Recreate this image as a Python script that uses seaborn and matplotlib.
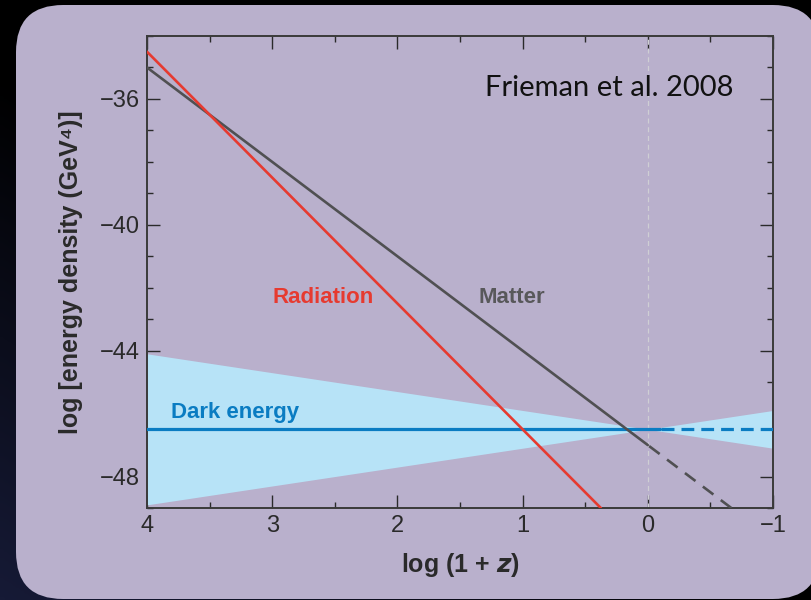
import numpy as np
import pandas as pd
import matplotlib
matplotlib.use("Agg")
import matplotlib.pyplot as plt
import seaborn as sns
from matplotlib.patches import FancyBboxPatch
from matplotlib.ticker import MultipleLocator
from matplotlib.colors import LinearSegmentedColormap

# ---------------- data ----------------
rad_x = [4.0, 0.375]
rad_y = [-34.5, -49.0]

mat_solid_x = [4.0, 0.0]
mat_solid_y = [-35.0, -47.0]
mat_dash_x = [0.0, -0.667]
mat_dash_y = [-47.0, -49.0]

de_solid_x = [4.0, -0.1]
de_solid_y = [-46.5, -46.5]
de_dash_x = [-0.1, -1.0]
de_dash_y = [-46.5, -46.5]

band_x = [4.0, 0.0, -1.0]
band_upper = [-44.1, -46.5, -45.9]
band_lower = [-48.9, -46.5, -47.1]

x_ticks = [4, 3, 2, 1, 0, -1]
x_tick_labels = ["4", "3", "2", "1", "0", "\u22121"]
y_ticks = [-36, -40, -44, -48]
y_tick_labels = ["\u221236", "\u221240", "\u221244", "\u221248"]

# ---------------- style ----------------
sns.set_theme(style="ticks")
plt.rcParams["font.family"] = ["Liberation Sans", "DejaVu Sans"]

BOX = "#b9b0cc"
RED = "#e63a30"
GRAY = "#505052"
BLUE = "#0a7cc2"
BAND = "#b7e3f7"
INK = "#2a2a2a"

fig = plt.figure(figsize=(8.11, 6.0), dpi=100)
fig.patch.set_facecolor("#000000")

# dark gradient background (navy toward bottom-left)
bg = fig.add_axes([0, 0, 1, 1], zorder=-10)
gx, gy = np.meshgrid(np.linspace(0, 1, 200), np.linspace(0, 1, 200))
grad = np.clip((1 - gx) * 0.7 + gy * 0.8 - 0.8, 0, 1) / 0.7
cmap = LinearSegmentedColormap.from_list("bgc", ["#000000", "#161a36"])
bg.imshow(grad, cmap=cmap, extent=[0, 1, 0, 1], aspect="auto", origin="upper",
          vmin=0, vmax=1)
bg.set_axis_off()

# rounded lavender panel
W, H = 811.0, 600.0
box = FancyBboxPatch((16 / W, 1 - 599 / H), (820 - 16) / W, (599 - 5) / H,
                     boxstyle="round,pad=0,rounding_size=0.058",
                     transform=fig.transFigure, facecolor=BOX, edgecolor="none",
                     mutation_aspect=W / H, zorder=-5)
fig.patches.append(box)

ax = fig.add_axes([147 / W, 1 - 508 / H, (773 - 147) / W, (508 - 36) / H])
ax.set_facecolor("none")

# band
ax.fill_between(band_x, band_lower, band_upper, color=BAND, linewidth=0, zorder=1)

# vertical dashed line at today
ax.axvline(0, color="#cfcfd4", lw=0.9, ls=(0, (4, 3)), zorder=1.5)

# lines
sns.lineplot(x=de_solid_x, y=de_solid_y, color=BLUE, lw=2.3, ax=ax, zorder=3)
sns.lineplot(x=de_dash_x, y=de_dash_y, color=BLUE, lw=2.3, ax=ax, zorder=3,
             linestyle=(0, (4, 2.2)))
sns.lineplot(x=mat_solid_x, y=mat_solid_y, color=GRAY, lw=1.9, ax=ax, zorder=4)
sns.lineplot(x=mat_dash_x, y=mat_dash_y, color=GRAY, lw=1.9, ax=ax, zorder=4,
             linestyle=(0, (5, 3.5)))
sns.lineplot(x=rad_x, y=rad_y, color=RED, lw=1.9, ax=ax, zorder=5)

ax.set_xlim(4, -1)
ax.set_ylim(-49, -34)

ax.set_xticks(x_ticks)
ax.set_xticklabels(x_tick_labels)
ax.set_yticks(y_ticks)
ax.set_yticklabels(y_tick_labels)
ax.xaxis.set_minor_locator(MultipleLocator(0.5))
ax.yaxis.set_minor_locator(MultipleLocator(1))

ax.tick_params(which="both", direction="in", top=True, right=True,
               color=INK, width=1.0, labelsize=17, labelcolor=INK)
ax.tick_params(which="major", length=9.5, pad=5)
ax.tick_params(which="minor", length=4.5)
for s in ax.spines.values():
    s.set_color("#3a3a3a")
    s.set_linewidth(1.4)

ax.set_xlabel("log (1 + $\\boldsymbol{z}$)", fontsize=18, fontweight="bold",
              color=INK, labelpad=10)
ax.set_ylabel("log [energy density (GeV\u2074)]", fontsize=18,
              fontweight="bold", color=INK, labelpad=12)

# annotations
ax.text(2.595, -42.47, "Radiation", color=RED, fontsize=16, fontweight="bold",
        ha="center", va="baseline")
ax.text(1.09, -42.47, "Matter", color="#58585a", fontsize=16, fontweight="bold",
        ha="center", va="baseline")
ax.text(3.81, -46.14, "Dark energy", color=BLUE, fontsize=16, fontweight="bold",
        ha="left", va="baseline")
ax.text(1.30, -35.9, "Frieman et al. 2008", color="#111111", fontsize=21,
        family=["Lato", "DejaVu Sans"], ha="left", va="baseline")

fig.savefig("out.png", dpi=100, facecolor=fig.get_facecolor())
